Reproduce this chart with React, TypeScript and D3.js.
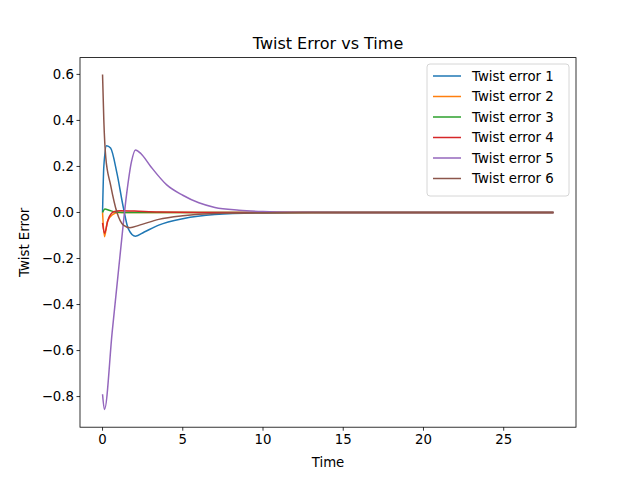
import * as d3 from "d3";
import React from "react";

const seriesNames = ["Twist error 1", "Twist error 2", "Twist error 3", "Twist error 4", "Twist error 5", "Twist error 6"];
const colors = ["#1f77b4", "#ff7f0e", "#2ca02c", "#d62728", "#9467bd", "#8c564b"];

// [time, value] samples
const err1: [number, number][] = [[0, 0], [0.08, 0.2], [0.25, 0.29], [0.5, 0.28], [0.9, 0.17], [1.3, 0.02], [1.6, -0.07], [2.05, -0.103], [2.6, -0.085], [3.5, -0.055], [5, -0.027], [7, -0.009], [10, -0.002], [14, 0], [28.1, 0]];
const err2: [number, number][] = [[0, 0], [0.12, -0.105], [0.3, -0.04], [0.6, -0.01], [1, 0], [28.1, 0]];
const err3: [number, number][] = [[0, 0], [0.15, 0.015], [0.4, 0.01], [0.8, 0.002], [1.2, 0], [28.1, 0]];
const err4: [number, number][] = [[0, -0.045], [0.12, -0.09], [0.35, -0.03], [0.7, 0.003], [1.1, 0.008], [2, 0.006], [3.5, 0.002], [6, 0], [28.1, 0]];
const err5: [number, number][] = [[0, -0.79], [0.12, -0.856], [0.6, -0.52], [1.1, -0.18], [1.5, 0.08], [1.8, 0.22], [2.05, 0.272], [2.4, 0.255], [3, 0.2], [4, 0.12], [5, 0.075], [6, 0.042], [7, 0.022], [8.5, 0.01], [10, 0.004], [12, 0.001], [15, 0], [28.1, 0]];
const err6: [number, number][] = [[0, 0.6], [0.08, 0.4], [0.2, 0.24], [0.5, 0.12], [0.9, 0], [1.3, -0.055], [1.7, -0.066], [2.3, -0.055], [3.5, -0.03], [5, -0.014], [7, -0.004], [10, -0.001], [14, 0], [28.1, 0]];
const allSeries = [err1, err2, err3, err4, err5, err6];

const xTicks = [0, 5, 10, 15, 20, 25];
const yTicks = [-0.8, -0.6, -0.4, -0.2, 0.0, 0.2, 0.4, 0.6];

const W = 640, H = 480;
const L = 80, R = 576, T = 57.6, B = 427.2;

export default function App() {
  const x = d3.scaleLinear().domain([-1.405, 29.505]).range([L, R]);
  const y = d3.scaleLinear().domain([-0.933, 0.673]).range([B, T]);
  const line = d3.line<[number, number]>().x(d => x(d[0])).y(d => y(d[1])).curve(d3.curveMonotoneX);
  const font = "DejaVu Sans, sans-serif";
  return (
    <svg width={W} height={H} style={{ position: "absolute", left: 0, top: 0 }} fontFamily={font}>
      <rect width={W} height={H} fill="white" />
      <defs>
        <clipPath id="c"><rect x={L} y={T} width={R - L} height={B - T} /></clipPath>
      </defs>
      <g clipPath="url(#c)">
        {allSeries.map((s, i) => (
          <path key={i} d={line(s) || ""} fill="none" stroke={colors[i]} strokeWidth={1.5} />
        ))}
      </g>
      <rect x={L} y={T} width={R - L} height={B - T} fill="none" stroke="black" strokeWidth={0.8} />
      {xTicks.map(t => (
        <g key={t}>
          <line x1={x(t)} x2={x(t)} y1={B} y2={B + 3.5} stroke="black" strokeWidth={0.8} />
          <text x={x(t)} y={B + 17} fontSize={13.3} textAnchor="middle">{t}</text>
        </g>
      ))}
      {yTicks.map(t => (
        <g key={t}>
          <line x1={L - 3.5} x2={L} y1={y(t)} y2={y(t)} stroke="black" strokeWidth={0.8} />
          <text x={L - 6} y={y(t) + 4.8} fontSize={13.3} textAnchor="end">{t.toFixed(1).replace("-", "\u2212")}</text>
        </g>
      ))}
      <text x={(L + R) / 2} y={467} fontSize={13.3} textAnchor="middle">Time</text>
      <text transform={`translate(29,${(T + B) / 2}) rotate(-90)`} fontSize={13.3} textAnchor="middle">Twist Error</text>
      <text x={(L + R) / 2} y={49} fontSize={16} textAnchor="middle">Twist Error vs Time</text>
      <g>
        <rect x={427} y={64} width={142} height={132} rx={3} fill="white" fillOpacity={0.8} stroke="#cccccc" strokeWidth={0.8} />
        {seriesNames.map((n, i) => (
          <g key={n} transform={`translate(0,${76 + i * 20.5})`}>
            <line x1={433} x2={461} y1={0} y2={0} stroke={colors[i]} strokeWidth={1.5} />
            <text x={472} y={4.8} fontSize={13.3}>{n}</text>
          </g>
        ))}
      </g>
    </svg>
  );
}
